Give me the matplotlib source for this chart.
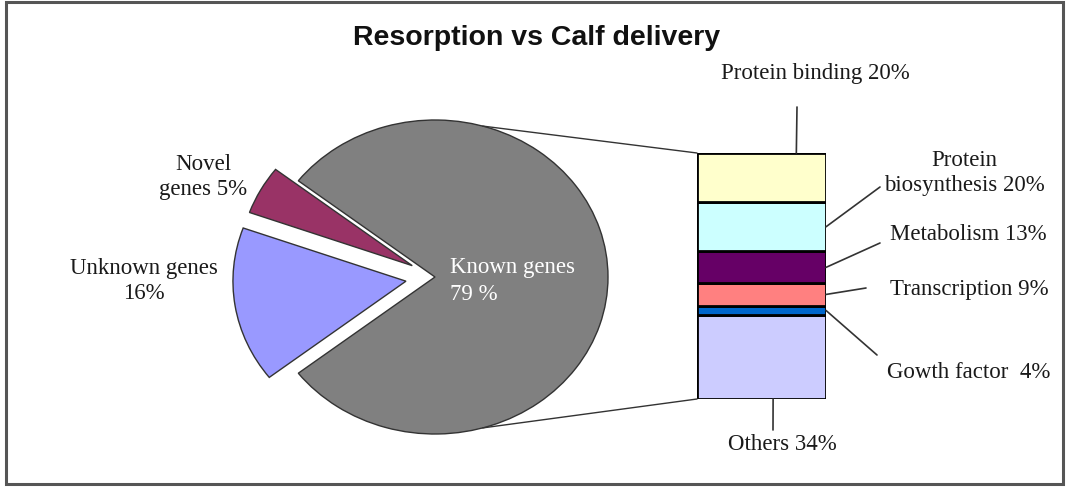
import numpy as np
import matplotlib
import matplotlib.pyplot as plt
from matplotlib.patches import ConnectionPatch, Rectangle

matplotlib.use("Agg")

# ---- data ----
pieLabels = ["Known genes\n79 %", "Novel\ngenes 5%", "Unknown genes\n16%"]
pieValues = [79, 5, 16]
pieColors = ["#808080", "#993366", "#9999FF"]
pieExplode = [0.0, 0.15, 0.17]

barLabels = ["Others 34%", "Gowth factor  4%", "Transcription 9%",
             "Metabolism 13%", "Protein\nbiosynthesis 20%", "Protein binding 20%"]
barValues = [34, 4, 9, 13, 20, 20]
barColors = ["#CCCCFF", "#0066CC", "#FF8080", "#660066", "#CCFFFF", "#FFFFCC"]

W, H = 1071, 487
fig = plt.figure(figsize=(W / 100, H / 100), dpi=100)

# main overlay axes in pixel coordinates (y down), drawn on top
axMain = fig.add_axes([0, 0, 1, 1])
axMain.set_xlim(0, W)
axMain.set_ylim(H, 0)
axMain.axis("off")
axMain.set_zorder(10)
axMain.add_patch(Rectangle((6, 2), 1057, 482, fill=False, edgecolor="#555555", lw=2.2))

serif = "Liberation Serif"
txtColor = "#1a1a1a"
fs = 16.5

axMain.text(537, 38, "Resorption vs Calf delivery", ha="center", va="center",
            fontsize=20.5, fontweight="bold", family="Liberation Sans", color="#111111")


def pxAxes(cx, cy, rx, ry, lim):
    """axes centered at pixel (cx, cy) where one data unit = rx, ry pixels"""
    w = 2 * lim * rx
    h = 2 * lim * ry
    return fig.add_axes([(cx - w / 2) / W, (H - cy - h / 2) / H, w / W, h / H])


# ---- pie ----
lim = 1.3
axPie = pxAxes(435, 277, 173, 157, lim)
startAngle = 180 + 360 * (pieValues[1] + pieValues[2]) / 200
wedges, _ = axPie.pie(pieValues, colors=pieColors, explode=pieExplode,
                      startangle=startAngle, counterclock=True,
                      wedgeprops=dict(edgecolor="#333333", linewidth=1.0))
axPie.set_aspect("auto")
axPie.set_xlim(-lim, lim)
axPie.set_ylim(-lim, lim)
axPie.axis("off")

knownTop, knownBottom = pieLabels[0].split("\n")
axMain.text(450, 268, knownTop, ha="left", va="center",
            fontsize=fs, family=serif, color="white")
axMain.text(450, 295, knownBottom, ha="left", va="center",
            fontsize=fs, family=serif, color="white")
axMain.text(203, 177, pieLabels[1], ha="center", va="center", fontsize=fs,
            family=serif, color=txtColor, linespacing=1.3)
axMain.text(144, 281, pieLabels[2], ha="center", va="center", fontsize=fs,
            family=serif, color=txtColor, linespacing=1.2)

# ---- stacked bar ----
barL, barR, barT, barB = 697, 826, 153, 399
axBar = fig.add_axes([barL / W, (H - barB) / H, (barR - barL) / W, (barB - barT) / H])
bottoms = np.concatenate([[0], np.cumsum(barValues)[:-1]])
axBar.bar([0] * len(barValues), barValues, bottom=bottoms, width=1.0,
          color=barColors, edgecolor="black", linewidth=2.0)
axBar.set_xlim(-0.5, 0.5)
axBar.set_ylim(0, sum(barValues))
axBar.axis("off")

# connectors pie -> bar
for sign, yB in [(1, sum(barValues)), (-1, 0)]:
    ang = np.deg2rad(74)
    con = ConnectionPatch(xyA=(np.cos(ang), sign * np.sin(ang)), coordsA=axPie.transData,
                          xyB=(-0.5, yB), coordsB=axBar.transData,
                          color="#333333", lw=1.0)
    fig.add_artist(con)

# bar labels
lineKw = dict(arrowstyle="-", color="#333333", lw=1.2, shrinkA=0, shrinkB=0)
mids = bottoms + np.array(barValues) / 2

# top / bottom labels with vertical leaders
axMain.text(815, 73, barLabels[5], ha="center", va="center", fontsize=fs,
            family=serif, color=txtColor)
axBar.annotate("", xy=(0.27, sum(barValues)), xytext=(797, 107),
               textcoords=axMain.transData, arrowprops=lineKw)
axMain.text(782, 445, barLabels[0], ha="center", va="center", fontsize=fs,
            family=serif, color=txtColor)
axBar.annotate("", xy=(0.09, 0), xytext=(773, 430),
               textcoords=axMain.transData, arrowprops=lineKw)

# side labels: (index, text position, leader start)
side = [
    (4, (964, 173), (880, 187)),
    (3, (968, 235), (880, 243)),
    (2, (969, 290), (866, 288)),
    (1, (969, 373), (877, 355)),
]
for idx, tpos, lstart in side:
    axMain.text(tpos[0], tpos[1], barLabels[idx], ha="center", va="center",
                fontsize=fs, family=serif, color=txtColor, linespacing=1.3)
    axBar.annotate("", xy=(0.5, mids[idx]), xytext=lstart,
                   textcoords=axMain.transData, arrowprops=lineKw)

fig.savefig("out.png", dpi=100)
